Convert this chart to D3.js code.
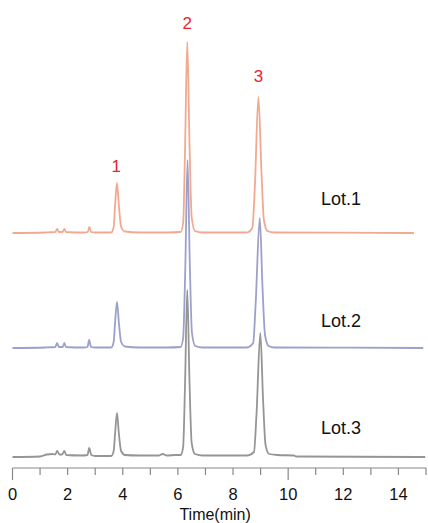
<!DOCTYPE html>
<html>
<head>
<meta charset="utf-8">
<script src="https://cdn.jsdelivr.net/npm/d3@7"></script>
<style>
  html, body { margin: 0; padding: 0; background: #fff; }
  svg { display: block; font-family: "Liberation Sans", Arial, sans-serif; }
</style>
</head>
<body>
<div id="chart"></div>
<script>
// chromatogrammes de 3 lots empilés, même axe de temps
const W = 428, H = 523

// [temps (min), signal], ligne de base à 0
const lot1 = [
  [0, 0], [1.2, 0.5], [1.55, 1], [1.62, 4], [1.68, 1], [1.82, 1], [1.88, 4], [1.94, 1],
  [2.6, 0.5], [2.73, 1], [2.79, 6], [2.85, 1], [3.0, 0.5], [3.58, 0.5], [3.67, 6],
  [3.72, 27], [3.79, 50], [3.86, 27], [3.94, 6], [4.08, 1.5], [4.6, 0.5], [5.6, 0.5],
  [6.1, 1], [6.19, 10], [6.26, 85], [6.34, 191], [6.42, 90], [6.5, 16], [6.62, 2], [6.9, 0.5],
  [8.5, 0.5], [8.7, 5], [8.79, 45], [8.92, 136], [9.03, 62], [9.12, 13], [9.25, 2], [9.5, 0.5],
  [12, 0.3], [14.56, 0]
]
const lot2 = [
  [0, 0], [1.2, 0.5], [1.55, 1], [1.62, 5], [1.68, 1], [1.82, 1], [1.88, 5], [1.94, 1],
  [2.6, 0.5], [2.72, 1], [2.78, 8], [2.85, 1], [3.0, 0.5], [3.58, 0.5], [3.67, 6],
  [3.72, 25], [3.79, 46], [3.86, 25], [3.94, 6], [4.08, 1.5], [4.6, 0.5], [5.6, 0.5],
  [6.1, 1], [6.19, 10], [6.27, 82], [6.35, 188], [6.43, 86], [6.51, 15], [6.63, 2], [6.9, 0.5],
  [8.5, 0.5], [8.73, 5], [8.82, 44], [8.97, 130], [9.07, 60], [9.16, 13], [9.29, 2], [9.5, 0.5],
  [12, 0.3], [14.9, 0]
]
const lot3 = [
  [0, 0], [1.0, 0.5], [1.25, 2.5], [1.45, 3], [1.55, 2.5], [1.62, 6], [1.7, 2.5], [1.8, 2.5],
  [1.88, 6], [1.95, 2], [2.5, 1.5], [2.72, 2], [2.78, 9], [2.86, 2], [3.0, 1], [3.58, 1],
  [3.67, 6], [3.72, 23], [3.79, 44], [3.86, 23], [3.94, 6], [4.08, 2], [4.6, 1.5], [5.3, 1.5],
  [5.45, 3], [5.6, 1.5], [5.9, 2], [6.1, 2], [6.19, 10], [6.26, 74], [6.34, 167], [6.42, 76],
  [6.5, 14], [6.62, 3], [6.9, 1.5], [8.5, 1.5], [8.76, 5], [8.85, 42], [8.99, 124], [9.09, 57],
  [9.18, 12], [9.31, 3], [9.6, 2], [10.2, 1.5], [10.3, 0.5], [14.97, 0]
]

const lots = ["Lot.1", "Lot.2", "Lot.3"]
const offsets = [224, 109, 0]
const colors = ["#f0a084", "#9097c4", "#8a8a8a"]
const series = [lot1, lot2, lot3]

const peakNames = ["1", "2", "3"]
const peakTimes = [3.76, 6.34, 8.92]
const peakLabelY = [165, 22, 75]

const ticks = d3.range(0, 15, 2)
const minorTicks = d3.range(0, 16, 1)

const svg = d3.select("#chart").append("svg")
  .attr("width", W).attr("height", H)

const x = d3.scaleLinear().domain([0, 15]).range([12.5, 426])
// signal -> pixels, ligne de base de Lot.3 à 457
const y = d3.scaleLinear().domain([0, 450]).range([457, 7])

const line = d3.line()
  .x((d) => x(d[0]))
  .curve(d3.curveMonotoneX)

// Lot.3 en dessous, Lot.1 au dessus
;[2, 1, 0].forEach((i) => {
  svg.append("path")
    .datum(series[i])
    .attr("fill", "none")
    .attr("stroke", colors[i])
    .attr("stroke-width", 1.8)
    .attr("stroke-opacity", 0.9)
    .attr("stroke-linejoin", "round")
    .attr("d", line.y((d) => y(d[1] + offsets[i])))
})

// Noms des lots
const lotLabelY = [205, 327, 434]
svg.selectAll("text.lot")
  .data(lots)
  .join("text")
  .attr("class", "lot")
  .attr("x", 321)
  .attr("y", (_, i) => lotLabelY[i])
  .attr("font-size", 18)
  .attr("fill", "#111")
  .text((d) => d)

// Numéros des pics (rouge)
svg.selectAll("text.peak")
  .data(peakNames)
  .join("text")
  .attr("class", "peak")
  .attr("x", (_, i) => x(peakTimes[i]))
  .attr("y", (_, i) => peakLabelY[i] + 6.5)
  .attr("text-anchor", "middle")
  .attr("font-size", 17)
  .attr("fill", "#e8242c")
  .text((d) => d)

// Axe du temps
const axisY = 468
const axisG = svg.append("g").attr("transform", `translate(0,${axisY})`)

axisG.append("line")
  .attr("x1", x(0)).attr("x2", x(15))
  .attr("stroke", "#888").attr("stroke-width", 1.2)

axisG.selectAll("line.tick")
  .data(minorTicks)
  .join("line")
  .attr("class", "tick")
  .attr("x1", (d) => x(d)).attr("x2", (d) => x(d))
  .attr("y1", 0)
  .attr("y2", (d) => (d % 10 === 0 ? 12 : 7))
  .attr("stroke", "#888").attr("stroke-width", 1.2)

axisG.selectAll("text.ticklab")
  .data(ticks)
  .join("text")
  .attr("class", "ticklab")
  .attr("x", (d) => x(d))
  .attr("y", 32)
  .attr("text-anchor", "middle")
  .attr("font-size", 16.5)
  .attr("fill", "#111")
  .text((d) => d)

svg.append("text")
  .attr("x", x(7.35)).attr("y", 520)
  .attr("text-anchor", "middle")
  .attr("font-size", 16)
  .attr("fill", "#111")
  .text("Time(min)")
</script>
</body>
</html>
